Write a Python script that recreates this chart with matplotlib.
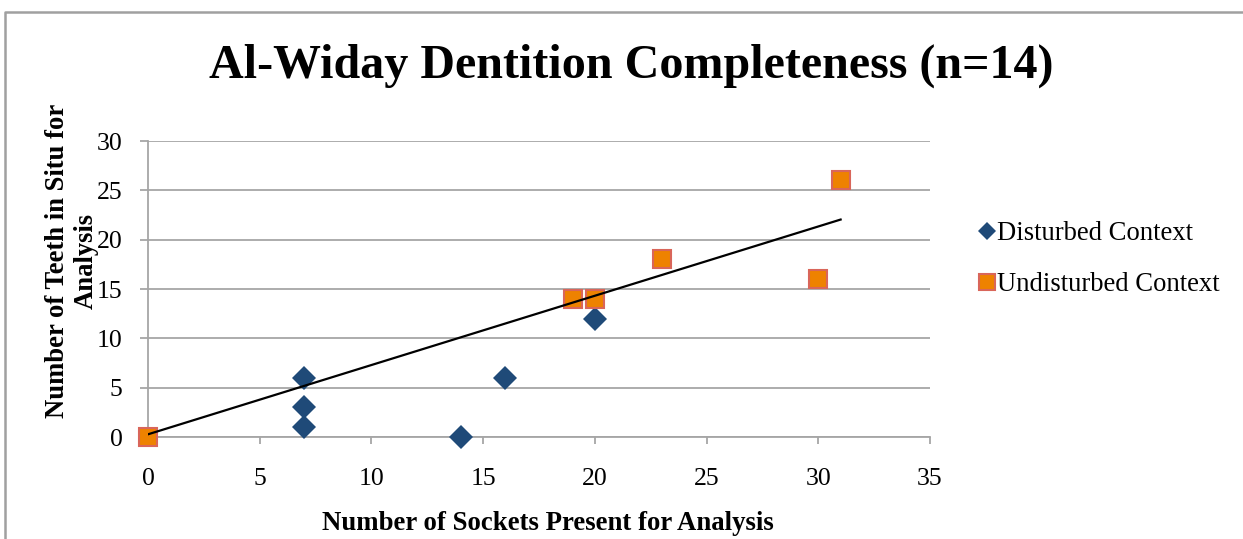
import numpy as np
import matplotlib
matplotlib.use("Agg")
import matplotlib.pyplot as plt
from matplotlib.lines import Line2D

plt.rcParams['font.family'] = ['Liberation Serif', 'DejaVu Serif']

# Sockets present (x) and teeth in situ (y) per burial
disturbed_x = [7, 7, 7, 14, 16, 20]
disturbed_y = [6, 3, 1, 0, 6, 12]
undisturbed_x = [0, 19, 20, 23, 30, 31]
undisturbed_y = [0, 14, 14, 18, 16, 26]

x_ticks = [0, 5, 10, 15, 20, 25, 30, 35]
y_ticks = [0, 5, 10, 15, 20, 25, 30]

W, H = 1243, 539
fig = plt.figure(figsize=(W / 100, H / 100), dpi=100)
ax = fig.add_axes([148 / W, 1 - 437 / H, (930 - 148) / W, (437 - 141) / H])

grid_col = '#a6a6a6'
ax.set_xlim(0, 35)
ax.set_ylim(0, 30)
ax.set_xticks(x_ticks)
ax.set_yticks(y_ticks)
ax.yaxis.grid(True, color=grid_col, lw=1.3)
ax.set_axisbelow(True)
for s in ['top', 'right']:
    ax.spines[s].set_visible(False)
for s in ['left', 'bottom']:
    ax.spines[s].set_color(grid_col)
    ax.spines[s].set_linewidth(1.3)
ax.tick_params(axis='both', colors=grid_col, labelcolor='black', labelsize=18.5,
               width=1.3, direction='out')
ax.tick_params(axis='y', length=5.8, pad=12.5)
ax.tick_params(axis='x', length=5, pad=17)

ax.plot(disturbed_x, disturbed_y, 'D', color='#1f4a78', markersize=12,
        markeredgewidth=0, clip_on=False, zorder=3, label='Disturbed Context')
ax.plot(undisturbed_x, undisturbed_y, 's', color='#ee8200', markeredgecolor='#d9665a',
        markersize=13.5, markeredgewidth=1.5, clip_on=False, zorder=3,
        label='Undisturbed Context')

# Linear trend of the undisturbed burials
k, b = np.polyfit(undisturbed_x, undisturbed_y, 1)
tx = np.array([min(undisturbed_x), max(undisturbed_x)])
ax.plot(tx, k * tx + b, color='black', lw=1.6, zorder=4)

fig.text(631 / W, 1 - 66 / H, 'Al-Widay Dentition Completeness (n=14)',
         ha='center', va='center', fontsize=34.6, fontweight='bold')
fig.text(548 / W, 1 - 523 / H, 'Number of Sockets Present for Analysis',
         ha='center', va='center', fontsize=19.3, fontweight='bold')
fig.text(72 / W, 1 - 261 / H, 'Number of Teeth in Situ for\nAnalysis',
         ha='center', va='center', rotation=90, fontsize=19.2, fontweight='bold',
         linespacing=1.16)

handles = [
    Line2D([], [], ls='none', marker='D', color='#1f4a78', markersize=9, markeredgewidth=0),
    Line2D([], [], ls='none', marker='s', color='#ee8200', markeredgecolor='#d9665a',
           markersize=11.5, markeredgewidth=1.5),
]
fig.legend(handles, ['Disturbed Context', 'Undisturbed Context'],
           loc='center left', bbox_to_anchor=(964 / W, 1 - 259 / H), frameon=False,
           fontsize=19.2, handlelength=0.7, handletextpad=0.05, labelspacing=0.97,
           borderpad=0)

# Outer chart frame
frame_col = '#a0a0a0'
fig.add_artist(Line2D([4.5 / W, 4.5 / W, 1.0], [0, 1 - 12 / H, 1 - 12 / H],
                      color=frame_col, lw=1.8, transform=fig.transFigure))

fig.savefig('out.png', dpi=100)
